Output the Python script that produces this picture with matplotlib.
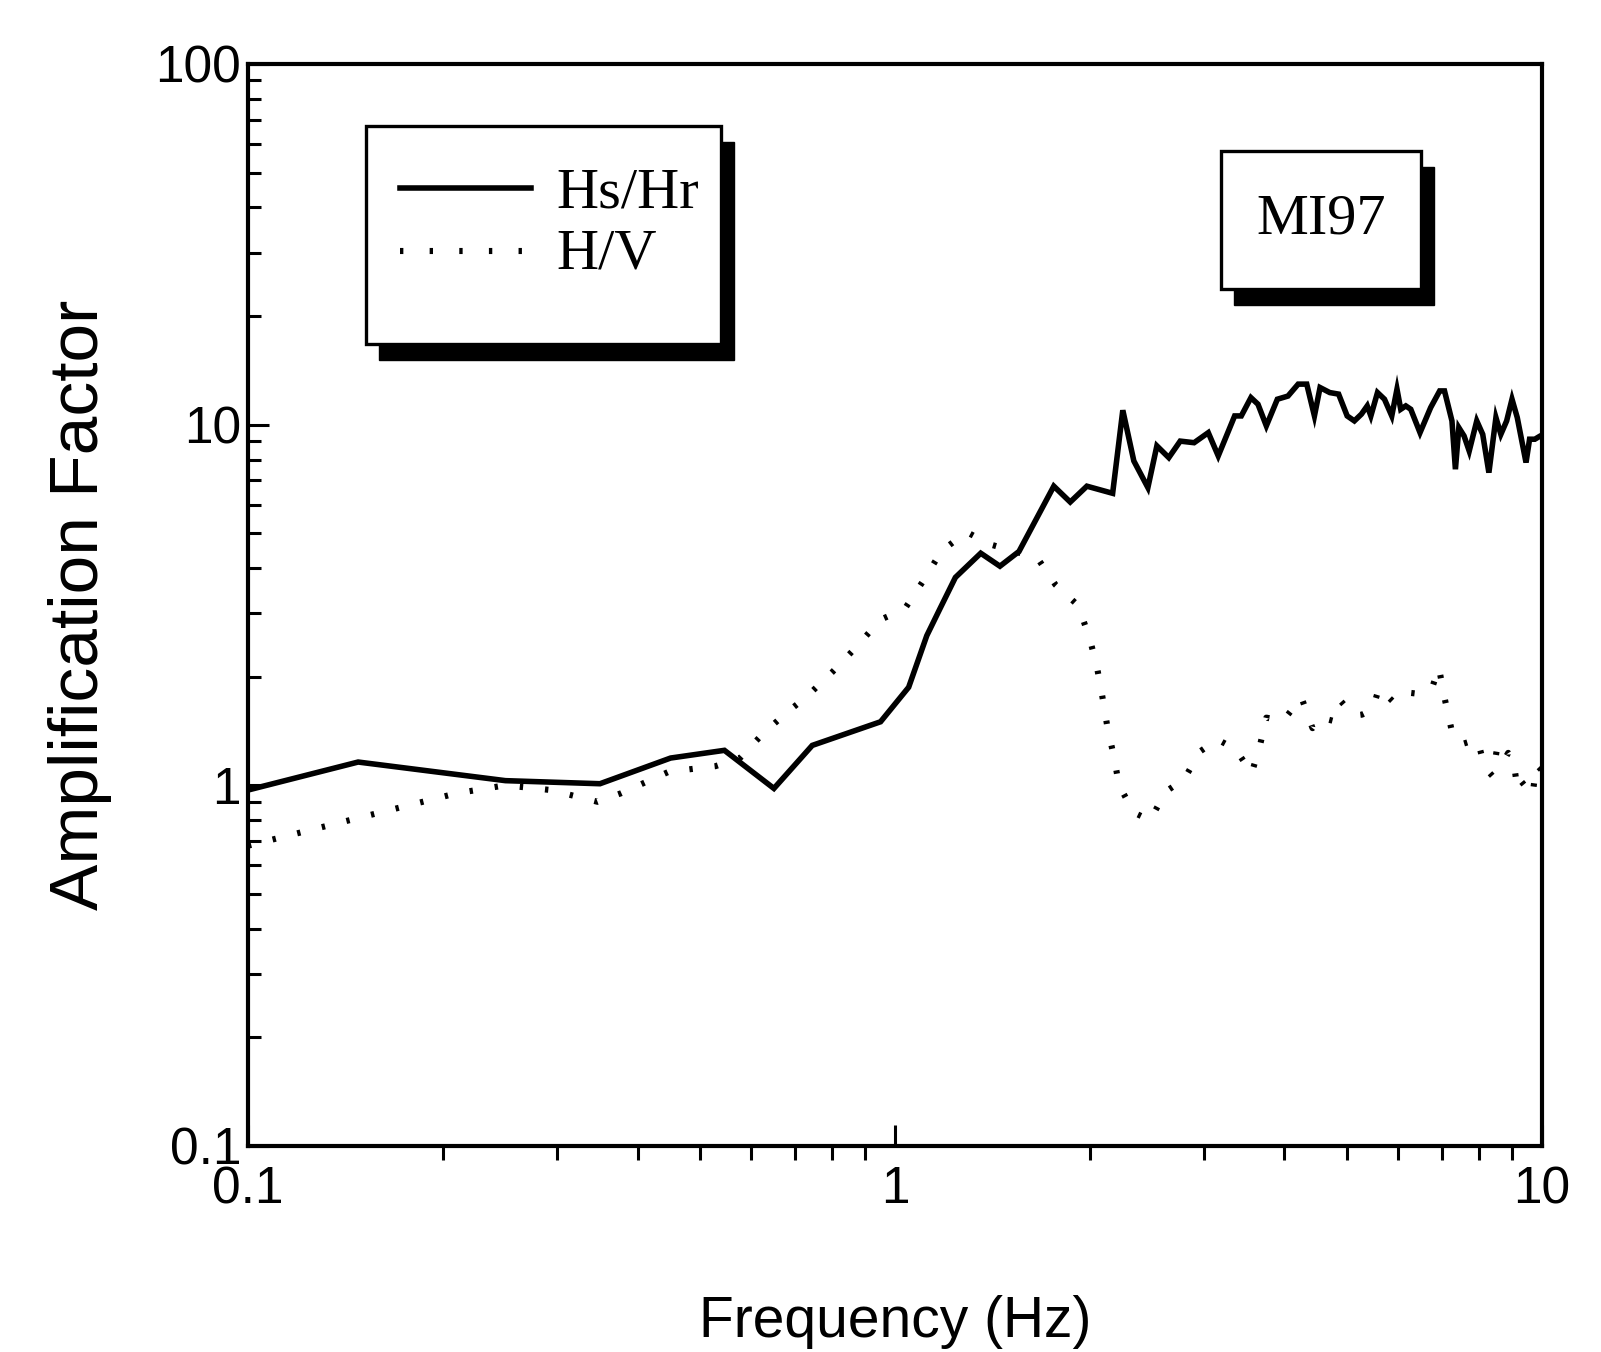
import matplotlib
matplotlib.use("Agg")
import matplotlib.pyplot as plt
from matplotlib.patches import Rectangle
from matplotlib.lines import Line2D
from matplotlib import font_manager
from matplotlib.ticker import LogLocator, FixedLocator, FixedFormatter, NullFormatter

# ---- data ----
hs_freq = [0.1, 0.148, 0.25, 0.35, 0.45, 0.545, 0.65, 0.745, 0.95, 1.05, 1.12, 1.175,
           1.24, 1.357, 1.453, 1.555, 1.76, 1.866, 1.98, 2.17, 2.25, 2.34, 2.46, 2.54,
           2.65, 2.76, 2.90, 3.05, 3.16, 3.35, 3.43, 3.55, 3.64, 3.75, 3.90, 4.05, 4.2,
           4.33, 4.45, 4.54, 4.7, 4.85, 5.0, 5.13, 5.26, 5.37, 5.44, 5.57, 5.71, 5.86,
           5.97, 6.05, 6.16, 6.27, 6.48, 6.73, 6.95, 7.07, 7.26, 7.35, 7.44, 7.58, 7.72,
           7.93, 8.1, 8.28, 8.49, 8.64, 8.82, 8.99, 9.16, 9.45, 9.57, 9.75, 9.94, 10.0]
hs_amp = [0.97, 1.16, 1.03, 1.01, 1.19, 1.25, 0.98, 1.29, 1.50, 1.87, 2.6, 3.1,
          3.77, 4.4, 4.05, 4.45, 6.75, 6.1, 6.75, 6.45, 10.96, 7.93, 6.69, 8.73,
          8.1, 9.0, 8.91, 9.5, 8.19, 10.57, 10.57, 11.88, 11.39, 9.92, 11.76, 12.0, 12.95,
          12.95, 10.57, 12.67, 12.27, 12.15, 10.57, 10.24, 10.69, 11.27, 10.57, 12.27, 11.76, 10.57,
          12.54, 11.03, 11.27, 11.03, 9.5, 11.15, 12.4, 12.4, 10.24, 7.52, 9.81, 9.3, 8.45,
          10.24, 9.4, 7.36, 10.46, 9.4, 10.24, 11.76, 10.46, 7.85, 9.11, 9.11, 9.3, 9.3]

hv_freq = [0.1, 0.21, 0.25, 0.294, 0.347, 0.377, 0.447, 0.528, 0.576, 0.625, 0.68, 0.73,
           0.80, 0.87, 0.95, 1.035, 1.105, 1.18, 1.29, 1.40, 1.66, 1.77, 1.92, 2.0,
           2.05, 2.09, 2.13, 2.18, 2.22, 2.34, 2.48, 2.62, 2.80, 2.96, 3.15, 3.36,
           3.56, 3.67, 3.75, 3.98, 4.25, 4.42, 4.55, 4.75, 4.89, 5.12, 5.27, 5.47,
           5.60, 5.88, 6.16, 6.50, 6.79, 6.93, 7.08, 7.24, 7.51, 7.95, 8.16, 8.39,
           8.52, 8.73, 8.87, 9.04, 9.16, 9.27, 9.67, 9.81, 10.0]
hv_amp = [0.68, 0.95, 1.0, 0.97, 0.90, 0.95, 1.09, 1.13, 1.19, 1.39, 1.59, 1.76,
          2.06, 2.41, 2.88, 3.08, 3.68, 4.46, 5.04, 4.66, 4.27, 3.6, 3.15, 2.55,
          2.15, 1.78, 1.45, 1.2, 1.0, 0.84, 0.80, 0.96, 1.04, 1.24, 1.34, 1.26,
          1.08, 1.30, 1.54, 1.51, 1.75, 1.44, 1.54, 1.51, 1.71, 1.56, 1.57, 1.62,
          1.86, 1.71, 1.81, 1.79, 1.90, 2.12, 1.73, 1.44, 1.30, 1.34, 1.12, 1.06,
          1.26, 1.17, 1.23, 1.17, 0.98, 1.03, 0.94, 1.14, 1.10]

x_ticks = [0.1, 1, 10]
x_tick_labels = ["0.1", "1", "10"]
y_ticks = [0.1, 1, 10, 100]
y_tick_labels = ["0.1", "1", "10", "100"]
legend_labels = ["Hs/Hr", "H/V"]
station = "MI97"
xlabel = "Frequency (Hz)"
ylabel = "Amplification Factor"

# ---- fonts ----
installed = {f.name for f in font_manager.fontManager.ttflist}
narrow = "Liberation Sans Narrow" if "Liberation Sans Narrow" in installed else "Liberation Sans"
serif = "Liberation Serif"

fig = plt.figure(figsize=(16.01, 13.52), dpi=100)
ax = fig.add_axes([0.1549, 0.1524, 0.8082, 0.8003])

dot_style = (0, (0.55, 3.6))
ax.plot(hs_freq, hs_amp, color="black", lw=4.0, solid_joinstyle="miter")
ax.plot(hv_freq, hv_amp, color="black", lw=4.4, linestyle=dot_style, dash_capstyle="butt")

ax.set_xscale("log")
ax.set_yscale("log")
ax.set_xlim(0.1, 10)
ax.set_ylim(0.1, 100)

for s in ax.spines.values():
    s.set_linewidth(3.0)

ax.xaxis.set_major_locator(FixedLocator(x_ticks))
ax.xaxis.set_major_formatter(FixedFormatter(x_tick_labels))
ax.yaxis.set_major_locator(FixedLocator(y_ticks))
ax.yaxis.set_major_formatter(FixedFormatter(y_tick_labels))
ax.xaxis.set_minor_locator(LogLocator(base=10, subs=range(2, 10)))
ax.yaxis.set_minor_locator(LogLocator(base=10, subs=range(2, 10)))
ax.xaxis.set_minor_formatter(NullFormatter())
ax.yaxis.set_minor_formatter(NullFormatter())

ax.tick_params(axis="x", which="major", direction="in", length=15, width=2.2, pad=14,
               labelsize=37, top=False)
ax.tick_params(axis="x", which="minor", direction="out", length=10, width=2.2, top=False)
ax.tick_params(axis="y", which="major", direction="in", length=15, width=2.2, pad=5,
               labelsize=37, right=False)
ax.tick_params(axis="y", which="minor", direction="in", length=9, width=2.2, right=False)
for lab in ax.get_xticklabels() + ax.get_yticklabels():
    lab.set_fontfamily(narrow)

ax.set_xlabel(xlabel, fontsize=41, family=narrow, va="center")
ax.xaxis.set_label_coords(0.5, -0.163)
ax.set_ylabel(ylabel, fontsize=50, family="Liberation Sans", va="center")
ax.yaxis.set_label_coords(-0.13, 0.5)

T = ax.transAxes
sx, sy = 0.010, 0.0145

# legend box with shadow
lx0, lx1, ly0, ly1 = 0.0912, 0.3655, 0.7412, 0.9427
ax.add_patch(Rectangle((lx0 + sx, ly0 - sy), lx1 - lx0, ly1 - ly0, transform=T,
                       facecolor="black", edgecolor="black", zorder=5, clip_on=False))
ax.add_patch(Rectangle((lx0, ly0), lx1 - lx0, ly1 - ly0, transform=T,
                       facecolor="white", edgecolor="black", lw=2.4, zorder=6, clip_on=False))
ax.add_line(Line2D([0.1175, 0.2187], [0.8854, 0.8854], transform=T, color="black",
                   lw=4.0, zorder=7))
ax.add_line(Line2D([0.1175, 0.2187], [0.8272, 0.8272], transform=T, color="black",
                   lw=4.4, linestyle=(0, (0.55, 4.3)), zorder=7))
ax.text(0.2384, 0.8799, legend_labels[0], transform=T, family=serif, fontsize=42,
        va="center", ha="left", zorder=8)
ax.text(0.2384, 0.8235, legend_labels[1], transform=T, family=serif, fontsize=42,
        va="center", ha="left", zorder=8)

# station label box with shadow
bx0, bx1, by0, by1 = 0.7519, 0.9065, 0.7921, 0.9196
ax.add_patch(Rectangle((bx0 + sx, by0 - sy), bx1 - bx0, by1 - by0, transform=T,
                       facecolor="black", edgecolor="black", zorder=5, clip_on=False))
ax.add_patch(Rectangle((bx0, by0), bx1 - bx0, by1 - by0, transform=T,
                       facecolor="white", edgecolor="black", lw=2.4, zorder=6, clip_on=False))
ax.text((bx0 + bx1) / 2, (by0 + by1) / 2, station, transform=T, family=serif,
        fontsize=42, va="center", ha="center", zorder=8)

fig.savefig("out.png", dpi=100, facecolor="white")
